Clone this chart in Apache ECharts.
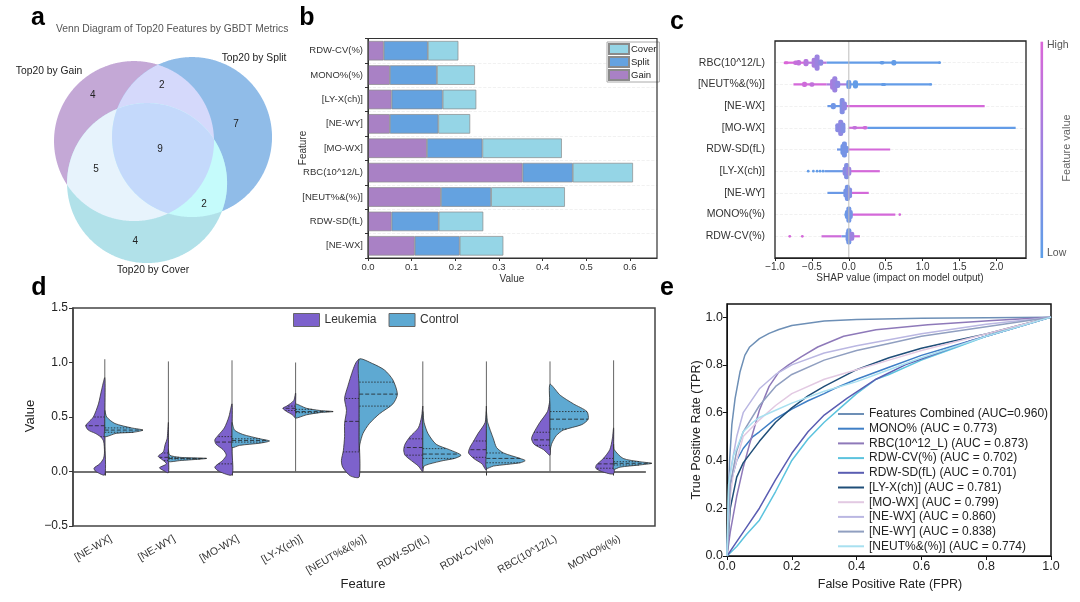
<!DOCTYPE html>
<html lang="en">
<head>
    <meta charset="UTF-8">
    <title>GBDT feature figure</title>
    <script src="https://cdn.jsdelivr.net/npm/echarts@6/dist/echarts.min.js"></script>
    <style>
        html, body { margin: 0; padding: 0; background: #fff; }
        #main { width: 1080px; height: 602px; }
    </style>
</head>
<body>
<div id="main"></div>
<script>
    // ---- a: venn ----
    var vennNames = ['Top20 by Gain', 'Top20 by Split', 'Top20 by Cover'];
    var vennCenters = [[-0.296, -0.158], [0.429, -0.208], [-0.133, 0.367]];
    var vennRadius = 1;
    var vennRegionSets = [[0], [1], [2], [0, 1], [0, 2], [1, 2], [0, 1, 2]];
    var vennRegionCounts = [4, 7, 4, 2, 5, 2, 9];
    var vennLabelAt = [[-0.81, -0.73], [0.98, -0.37], [-0.28, 1.10], [0.05, -0.85], [-0.77, 0.19], [0.58, 0.63], [0.03, -0.05]];
    var vennColors = ['#c4a8d6', '#90bce8', '#b1e1e9', '#d5d9fb', '#e7f3fc', '#c5fbfb', '#c4d9fb'];

    // ---- b: stacked importance ----
    var bFeatures = ['RDW-CV(%)', 'MONO%(%)', '[LY-X(ch)]', '[NE-WY]', '[MO-WX]', 'RBC(10^12/L)', '[NEUT%&(%)]', 'RDW-SD(fL)', '[NE-WX]'];
    var bGain = [0.036, 0.050, 0.054, 0.050, 0.135, 0.354, 0.167, 0.054, 0.107];
    var bSplit = [0.101, 0.108, 0.117, 0.111, 0.127, 0.115, 0.115, 0.108, 0.103];
    var bCover = [0.070, 0.087, 0.077, 0.073, 0.182, 0.138, 0.169, 0.102, 0.100];

    // ---- c: shap summary ----
    var shapFeatures = ['RBC(10^12/L)', '[NEUT%&(%)]', '[NE-WX]', '[MO-WX]', 'RDW-SD(fL)', '[LY-X(ch)]', '[NE-WY]', 'MONO%(%)', 'RDW-CV(%)'];
    // [x0, x1, feature value 0..1]
    var shapLines = [
        [[-0.86, -0.6, 1], [-0.6, -0.3, 0.7], [-0.3, 1.23, 0.05]],
        [[-0.75, -0.3, 0.95], [-0.3, 0, 0.6], [0, 1.10, 0.05]],
        [[-0.29, -0.05, 0.1], [-0.05, 1.84, 0.95]],
        [[-0.17, -0.05, 0.4], [0, 0.25, 0.9], [0.25, 2.26, 0.05]],
        [[-0.16, -0.02, 0.15], [0, 0.56, 0.95]],
        [[-0.33, -0.05, 0.1], [0, 0.42, 0.95]],
        [[-0.29, -0.02, 0.1], [0, 0.27, 0.95]],
        [[-0.06, 0, 0.1], [0, 0.63, 0.95]],
        [[-0.37, -0.1, 0.9], [-0.1, 0.02, 0.2], [0.02, 0.15, 0.9]]
    ];
    // [x, feature value]
    var shapDots = [
        [[1.23, 0.05]], [[1.11, 0.05]], [], [], [],
        [[-0.55, 0.05], [-0.48, 0.05], [-0.43, 0.05], [-0.39, 0.05], [-0.35, 0.05]],
        [], [[0.69, 0.95]], [[-0.80, 0.95], [-0.63, 0.95]]
    ];
    // [x, spread 0..1, feature value]
    var shapBlobs = [
        [[-0.85, 0.15, 1], [-0.72, 0.25, 0.85], [-0.68, 0.3, 0.8], [-0.58, 0.4, 0.7], [-0.47, 0.55, 0.6], [-0.43, 0.9, 0.5], [-0.38, 0.35, 0.4], [0.45, 0.2, 0.05], [0.61, 0.3, 0.05]],
        [[-0.6, 0.3, 0.9], [-0.5, 0.25, 0.8], [-0.22, 0.6, 0.6], [-0.19, 0.9, 0.5], [-0.15, 0.4, 0.4], [0.0, 0.5, 0.1], [0.09, 0.45, 0.05], [0.47, 0.15, 0.05]],
        [[-0.21, 0.35, 0.15], [-0.09, 0.9, 0.3], [-0.06, 0.5, 0.4]],
        [[-0.15, 0.5, 0.35], [-0.11, 0.9, 0.4], [-0.08, 0.6, 0.3], [0.08, 0.2, 0.8], [0.22, 0.2, 0.9]],
        [[-0.08, 0.6, 0.15], [-0.06, 0.9, 0.2], [-0.03, 0.4, 0.2]],
        [[-0.05, 0.5, 0.4], [-0.03, 0.9, 0.3], [0.0, 0.5, 0.5]],
        [[-0.04, 0.5, 0.2], [-0.02, 0.9, 0.2], [0.01, 0.6, 0.3]],
        [[-0.02, 0.5, 0.1], [0.0, 0.9, 0.15], [0.02, 0.5, 0.2]],
        [[-0.01, 0.6, 0.2], [0.0, 0.9, 0.15], [0.04, 0.5, 0.5]]
    ];

    // ---- d: split violins ----
    var dFeatures = ['[NE-WX]', '[NE-WY]', '[MO-WX]', '[LY-X(ch)]', '[NEUT%&(%)]', 'RDW-SD(fL)', 'RDW-CV(%)', 'RBC(10^12/L)', 'MONO%(%)'];
    // [value, half width in band units], top to bottom
    var leukProfiles = [
        [[0.86, 0], [0.75, 0.05], [0.62, 0.10], [0.50, 0.18], [0.45, 0.26], [0.42, 0.30], [0.38, 0.26], [0.35, 0.15], [0.32, 0.07], [0.28, 0.02], [0.18, 0.005], [0.12, 0.02], [0.07, 0.08], [0.03, 0.17], [0.0, 0.14], [-0.03, 0]],
        [[0.45, 0], [0.30, 0.02], [0.25, 0.05], [0.18, 0.08], [0.14, 0.16], [0.11, 0.10], [0.07, 0.03], [0.035, 0.14], [0.01, 0.08], [-0.01, 0]],
        [[0.62, 0], [0.50, 0.05], [0.40, 0.12], [0.33, 0.22], [0.29, 0.27], [0.25, 0.25], [0.20, 0.14], [0.15, 0.09], [0.10, 0.15], [0.04, 0.27], [0.0, 0.2], [-0.03, 0]],
        [[0.72, 0], [0.65, 0.03], [0.60, 0.14], [0.58, 0.20], [0.55, 0.14], [0.52, 0.05], [0.49, 0]],
        [[1.03, 0], [1.0, 0.05], [0.93, 0.10], [0.78, 0.18], [0.67, 0.23], [0.56, 0.20], [0.44, 0.23], [0.32, 0.23], [0.19, 0.25], [0.10, 0.28], [0.04, 0.26], [-0.04, 0.14], [-0.05, 0]],
        [[0.6, 0], [0.5, 0.02], [0.4, 0.07], [0.32, 0.20], [0.25, 0.28], [0.2, 0.30], [0.15, 0.28], [0.1, 0.18], [0.05, 0.07], [0.0, 0]],
        [[0.6, 0], [0.45, 0.02], [0.35, 0.13], [0.28, 0.20], [0.22, 0.26], [0.17, 0.28], [0.12, 0.20], [0.07, 0.07], [0.01, 0]],
        [[0.65, 0], [0.55, 0.04], [0.45, 0.16], [0.35, 0.26], [0.30, 0.29], [0.25, 0.25], [0.20, 0.10], [0.15, 0]],
        [[0.4, 0], [0.3, 0.02], [0.2, 0.06], [0.12, 0.16], [0.06, 0.27], [0.03, 0.28], [0.0, 0.19], [-0.02, 0]]
    ];
    var ctrlProfiles = [
        [[0.56, 0], [0.50, 0.03], [0.44, 0.16], [0.40, 0.42], [0.38, 0.60], [0.36, 0.45], [0.35, 0.18], [0.32, 0]],
        [[0.2, 0], [0.15, 0.02], [0.13, 0.18], [0.12, 0.60], [0.10, 0.18], [0.09, 0]],
        [[0.45, 0], [0.38, 0.04], [0.34, 0.17], [0.30, 0.44], [0.28, 0.59], [0.26, 0.44], [0.24, 0.12], [0.22, 0]],
        [[0.62, 0], [0.58, 0.17], [0.56, 0.38], [0.55, 0.59], [0.54, 0.38], [0.52, 0.17], [0.49, 0]],
        [[1.03, 0], [0.99, 0.21], [0.93, 0.40], [0.84, 0.53], [0.71, 0.60], [0.62, 0.53], [0.53, 0.32], [0.44, 0.16], [0.35, 0.06], [0.25, 0.01], [0.19, 0]],
        [[0.55, 0], [0.45, 0.02], [0.35, 0.08], [0.25, 0.21], [0.2, 0.42], [0.15, 0.60], [0.12, 0.50], [0.1, 0.32], [0.07, 0.11], [0.05, 0.02], [0.03, 0]],
        [[0.55, 0], [0.45, 0.02], [0.3, 0.11], [0.22, 0.16], [0.17, 0.27], [0.12, 0.53], [0.10, 0.61], [0.08, 0.53], [0.05, 0.11], [0.03, 0]],
        [[0.80, 0], [0.70, 0.16], [0.62, 0.37], [0.55, 0.58], [0.48, 0.60], [0.43, 0.50], [0.38, 0.21], [0.33, 0.10], [0.26, 0.03], [0.20, 0]],
        [[0.25, 0], [0.2, 0.01], [0.12, 0.15], [0.09, 0.41], [0.075, 0.60], [0.06, 0.41], [0.04, 0.10], [0.02, 0]]
    ];
    // [q1, median, q3]
    var leukQuart = [[0.32, 0.42, 0.50], [0.10, 0.13, 0.17], [0.07, 0.27, 0.32], [0.56, 0.58, 0.60], [0.18, 0.46, 0.67], [0.15, 0.22, 0.30], [0.13, 0.20, 0.28], [0.24, 0.29, 0.36], [0.03, 0.07, 0.12]];
    var ctrlQuart = [[0.36, 0.38, 0.40], [0.115, 0.12, 0.13], [0.27, 0.285, 0.30], [0.54, 0.55, 0.57], [0.60, 0.71, 0.82], [0.12, 0.16, 0.21], [0.08, 0.12, 0.17], [0.39, 0.48, 0.55], [0.06, 0.075, 0.09]];
    var violinSpan = [[-0.03, 1.03], [-0.01, 1.01], [-0.03, 1.02], [0.0, 1.0], [-0.05, 1.03], [0.0, 1.01], [0.01, 1.01], [0.0, 1.01], [-0.02, 1.02]];

    // ---- e: ROC ----
    var rocNames = ['Features Combined (AUC=0.960)', 'MONO% (AUC = 0.773)', 'RBC(10^12_L) (AUC = 0.873)', 'RDW-CV(%) (AUC = 0.702)',
        'RDW-SD(fL) (AUC = 0.701)', '[LY-X(ch)] (AUC = 0.781)', '[MO-WX] (AUC = 0.799)', '[NE-WX] (AUC = 0.860)',
        '[NE-WY] (AUC = 0.838)', '[NEUT%&(%)] (AUC = 0.774)'];
    var rocCombined = [[0, 0], [0.003, 0.2], [0.008, 0.4], [0.015, 0.55], [0.025, 0.66], [0.04, 0.77], [0.055, 0.84], [0.07, 0.875], [0.1, 0.91], [0.13, 0.932], [0.16, 0.948], [0.2, 0.965], [0.3, 0.984], [0.4, 0.99], [0.6, 0.995], [1, 1]];
    var rocMono = [[0, 0], [0.005, 0.2], [0.01, 0.3], [0.03, 0.4], [0.05, 0.45], [0.08, 0.5], [0.1, 0.52], [0.15, 0.575], [0.2, 0.615], [0.25, 0.65], [0.3, 0.68], [0.33, 0.7], [0.4, 0.74], [0.5, 0.79], [0.6, 0.84], [0.7, 0.88], [0.8, 0.92], [0.9, 0.96], [1, 1]];
    var rocRbc = [[0, 0], [0.01, 0.1], [0.03, 0.25], [0.05, 0.37], [0.07, 0.47], [0.1, 0.61], [0.13, 0.71], [0.16, 0.77], [0.19, 0.8], [0.23, 0.835], [0.28, 0.875], [0.36, 0.92], [0.46, 0.947], [0.62, 0.968], [0.82, 0.986], [1, 1]];
    var rocRdwCv = [[0, 0], [0.03, 0.04], [0.06, 0.09], [0.1, 0.15], [0.15, 0.27], [0.2, 0.4], [0.25, 0.49], [0.3, 0.56], [0.35, 0.62], [0.4, 0.68], [0.45, 0.73], [0.46, 0.74], [0.5, 0.76], [0.6, 0.82], [0.7, 0.87], [0.8, 0.92], [0.9, 0.96], [1, 1]];
    var rocRdwSd = [[0, 0], [0.03, 0.06], [0.06, 0.12], [0.1, 0.2], [0.15, 0.32], [0.2, 0.43], [0.25, 0.52], [0.3, 0.59], [0.37, 0.66], [0.46, 0.74], [0.55, 0.8], [0.65, 0.85], [0.75, 0.9], [0.85, 0.94], [1, 1]];
    var rocLyx = [[0, 0], [0.01, 0.2], [0.03, 0.33], [0.05, 0.39], [0.1, 0.48], [0.15, 0.56], [0.2, 0.62], [0.25, 0.67], [0.3, 0.71], [0.4, 0.78], [0.5, 0.83], [0.6, 0.87], [0.7, 0.9], [0.8, 0.93], [0.9, 0.965], [1, 1]];
    var rocMowx = [[0, 0], [0.01, 0.25], [0.02, 0.35], [0.05, 0.5], [0.1, 0.57], [0.15, 0.63], [0.2, 0.68], [0.3, 0.74], [0.4, 0.78], [0.5, 0.82], [0.6, 0.86], [0.7, 0.895], [0.8, 0.93], [0.9, 0.965], [1, 1]];
    var rocNewx = [[0, 0], [0.01, 0.35], [0.03, 0.5], [0.05, 0.6], [0.1, 0.7], [0.15, 0.76], [0.2, 0.8], [0.3, 0.85], [0.4, 0.88], [0.5, 0.905], [0.6, 0.93], [0.8, 0.97], [1, 1]];
    var rocNewy = [[0, 0], [0.01, 0.3], [0.03, 0.44], [0.05, 0.52], [0.1, 0.63], [0.15, 0.71], [0.2, 0.76], [0.3, 0.82], [0.4, 0.86], [0.5, 0.89], [0.6, 0.92], [0.8, 0.96], [1, 1]];
    var rocNeut = [[0, 0], [0.005, 0.3], [0.02, 0.42], [0.03, 0.45], [0.05, 0.52], [0.08, 0.56], [0.1, 0.58], [0.15, 0.61], [0.2, 0.64], [0.3, 0.69], [0.4, 0.73], [0.46, 0.76], [0.5, 0.78], [0.6, 0.83], [0.7, 0.875], [0.8, 0.92], [0.9, 0.96], [1, 1]];
    var rocCurves = [rocCombined, rocMono, rocRbc, rocRdwCv, rocRdwSd, rocLyx, rocMowx, rocNewx, rocNewy, rocNeut];
    var rocColors = ['#6d8fb6', '#3f7fc6', '#8e79b9', '#5cc3de', '#5a5db2', '#1f4e78', '#e2c9e2', '#bab7e2', '#909fc0', '#a8e0f0'];

    var FONT = '"Liberation Sans", Arial, sans-serif';
    var LEUK = '#7d62cc', CTRL = '#5ea9d2';

    function fvColor(f) {
        var lo = [93, 159, 232], hi = [218, 102, 216];
        var c = lo.map(function (v, k) { return Math.round(v + (hi[k] - v) * f); });
        return 'rgb(' + c.join(',') + ')';
    }

    // convex region = intersection of listed circles, sampled on the boundaries
    function regionPoints(sets) {
        var pts = [];
        sets.forEach(function (k) {
            var c = vennCenters[k];
            for (var a = 0; a < 720; a++) {
                var t = a * Math.PI / 360;
                var p = [c[0] + vennRadius * Math.cos(t), c[1] + vennRadius * Math.sin(t)];
                var ok = sets.every(function (j) {
                    if (j === k) return true;
                    return Math.hypot(p[0] - vennCenters[j][0], p[1] - vennCenters[j][1]) <= vennRadius + 1e-9;
                });
                if (ok) pts.push(p);
            }
        });
        var mx = 0, my = 0;
        pts.forEach(function (p) { mx += p[0]; my += p[1]; });
        mx /= pts.length; my /= pts.length;
        pts.sort(function (p, q) { return Math.atan2(p[1] - my, p[0] - mx) - Math.atan2(q[1] - my, q[0] - mx); });
        return pts;
    }

    // flatten shap marks: [kind, row, a, b, fv]
    var shapItems = [];
    shapLines.forEach(function (r, i) { r.forEach(function (s) { shapItems.push([0, i, s[0], s[1], s[2]]); }); });
    shapDots.forEach(function (r, i) { r.forEach(function (s) { shapItems.push([1, i, s[0], 0, s[1]]); }); });
    shapBlobs.forEach(function (r, i) { r.forEach(function (s) { shapItems.push([2, i, s[0], s[1], s[2]]); }); });

    function widthAt(prof, y) {
        for (var k = 0; k < prof.length - 1; k++) {
            var a = prof[k], b = prof[k + 1];
            if (y <= a[0] && y >= b[0]) return a[1] + (b[1] - a[1]) * (a[0] - y) / (a[0] - b[0]);
        }
        return 0;
    }

    function violinRender(profiles, quarts, side, color) {
        return function (params, api) {
            var i = params.dataIndex;
            var cx = api.coord([i, 0])[0];
            var bw = api.size([1, 0])[0];
            var prof = profiles[i];
            var pts = prof.map(function (p) { return [cx + side * p[1] * bw, api.coord([i, p[0]])[1]]; });
            var yTop = pts[0][1], yBot = pts[pts.length - 1][1];
            var poly = pts.concat([[cx, yBot + (yTop - yBot) * 0.33], [cx, yBot + (yTop - yBot) * 0.66]]);
            var children = [];
            if (side < 0) {
                var sp = violinSpan[i];
                children.push({
                    type: 'line',
                    shape: {x1: cx, y1: api.coord([i, sp[0]])[1], x2: cx, y2: api.coord([i, sp[1]])[1]},
                    style: {stroke: '#555', lineWidth: 0.9}
                });
            }
            children.push({
                type: 'polygon',
                shape: {points: poly, smooth: 0.25},
                style: {fill: color, stroke: '#333', lineWidth: 0.8}
            });
            quarts[i].forEach(function (q, k) {
                var y = api.coord([i, q])[1];
                var w = widthAt(prof, q) * bw;
                children.push({
                    type: 'line',
                    shape: {x1: cx, y1: y, x2: cx + side * w, y2: y},
                    style: {stroke: '#222', lineWidth: 0.8, lineDash: k === 1 ? [4, 2] : [1.5, 1.5]}
                });
            });
            return {type: 'group', children: children};
        };
    }

    var chart = echarts.init(document.getElementById('main'), null, {renderer: 'canvas'});

    var tickFmt1 = function (v) {
        return Math.abs(v * 10 - Math.round(v * 10)) < 1e-6 ? v.toFixed(1) : '';
    };
    var tickFmtHalf = function (v) {
        if (Math.abs(v * 2 - Math.round(v * 2)) > 1e-6) return '';
        return v.toFixed(1).replace('-', '\u2212');
    };

    var series = [];

    // a
    series.push({
        type: 'custom', name: 'venn', xAxisIndex: 0, yAxisIndex: 0, silent: true,
        data: vennRegionSets.map(function (s, i) { return [i]; }),
        renderItem: function (params, api) {
            var i = params.dataIndex;
            var pts = regionPoints(vennRegionSets[i]).map(function (p) { return api.coord(p); });
            return {type: 'polygon', shape: {points: pts}, style: {fill: vennColors[i], stroke: null}};
        }
    });
    series.push({
        type: 'custom', name: 'vennCounts', xAxisIndex: 0, yAxisIndex: 0, silent: true,
        data: vennRegionCounts.map(function (c, i) { return [i]; }),
        renderItem: function (params, api) {
            var i = params.dataIndex;
            var p = api.coord(vennLabelAt[i]);
            return {type: 'text', x: p[0], y: p[1], style: {text: String(vennRegionCounts[i]), font: '10px ' + FONT, fill: '#222', align: 'center', verticalAlign: 'middle'}};
        }
    });

    // b
    [['Gain', bGain, '#a981c5'], ['Split', bSplit, '#64a2e0'], ['Cover', bCover, '#95d5e6']].forEach(function (s) {
        series.push({
            type: 'bar', name: s[0], stack: 'imp', xAxisIndex: 1, yAxisIndex: 1, data: s[1], barWidth: '80%',
            itemStyle: {color: s[2], borderColor: '#8a8a8a', borderWidth: 0.7}
        });
    });

    // c
    series.push({
        type: 'line', name: 'zero', xAxisIndex: 2, yAxisIndex: 2, data: [[0, 0], [0, 10]], symbol: 'none', silent: true,
        lineStyle: {color: '#bdbdbd', width: 1}
    });
    series.push({
        type: 'custom', name: 'shap', xAxisIndex: 2, yAxisIndex: 2, silent: true,
        data: shapItems.map(function (d) { return [d[2], d[1] + 1]; }),
        renderItem: function (params, api) {
            var d = shapItems[params.dataIndex];
            var row = d[1] + 1;
            var col = fvColor(d[4]);
            var p = api.coord([d[2], row]);
            if (d[0] === 0) {
                var q = api.coord([d[3], row]);
                return {type: 'rect', shape: {x: p[0], y: p[1] - 1.1, width: q[0] - p[0], height: 2.2}, style: {fill: col}};
            }
            if (d[0] === 1) {
                return {type: 'circle', shape: {cx: p[0], cy: p[1], r: 1.4}, style: {fill: col}};
            }
            var h = Math.max(3, d[3] * 18);
            return {type: 'rect', shape: {x: p[0] - 2.5, y: p[1] - h / 2, width: 5, height: h, r: 2}, style: {fill: col}};
        }
    });

    // d
    series.push({
        type: 'custom', name: 'Leukemia', xAxisIndex: 4, yAxisIndex: 4, silent: true,
        itemStyle: {color: LEUK},
        data: dFeatures.map(function (f, i) { return [i, 0.5]; }),
        renderItem: violinRender(leukProfiles, leukQuart, -1, LEUK)
    });
    series.push({
        type: 'custom', name: 'Control', xAxisIndex: 4, yAxisIndex: 4, silent: true,
        itemStyle: {color: CTRL},
        data: dFeatures.map(function (f, i) { return [i, 0.5]; }),
        renderItem: violinRender(ctrlProfiles, ctrlQuart, 1, CTRL)
    });

    // e
    rocCurves.forEach(function (c, i) {
        series.push({
            type: 'line', name: rocNames[i], xAxisIndex: 5, yAxisIndex: 5, data: c, showSymbol: false, symbol: 'none',
            lineStyle: {color: rocColors[i], width: 1.5}, itemStyle: {color: rocColors[i]}
        });
    });

    function frame(x, y, w, h, color, lw) {
        return {type: 'rect', z: 100, silent: true, shape: {x: x, y: y, width: w, height: h}, style: {fill: null, stroke: color, lineWidth: lw}};
    }

    var hidden = {show: false};
    var option = {
        animation: false,
        textStyle: {fontFamily: FONT},
        grid: [
            {left: 37.7, top: 33.7, width: 240, height: 240},
            {left: 368, top: 38.5, width: 289, height: 219.5},
            {left: 775, top: 41, width: 251, height: 217},
            {left: 73, top: 308, width: 582, height: 218, show: true, borderColor: '#444', borderWidth: 1.5},
            {left: 73, top: 308, width: 572.4, height: 218},
            {left: 727, top: 304, width: 324, height: 252, show: true, borderColor: '#111', borderWidth: 1.5},
            {left: 79, top: 308, width: 572.4, height: 218}
        ],
        xAxis: [
            {type: 'value', gridIndex: 0, min: -1.5, max: 1.5, show: false},
            {
                type: 'value', gridIndex: 1, min: 0, max: 0.662, interval: 0.1,
                axisLine: {show: true, lineStyle: {color: '#333'}},
                axisTick: {show: true, length: 3, lineStyle: {color: '#333'}},
                axisLabel: {fontSize: 9.5, color: '#333', margin: 4, formatter: tickFmt1, showMaxLabel: false},
                splitLine: hidden
            },
            {
                type: 'value', gridIndex: 2, min: -1, max: 2.4, interval: 0.5,
                axisLine: {show: true, lineStyle: {color: '#222'}},
                axisTick: {show: true, length: 3, lineStyle: {color: '#222'}},
                axisLabel: {fontSize: 10, color: '#333', margin: 4, formatter: tickFmtHalf, showMaxLabel: false},
                splitLine: hidden
            },
            {type: 'value', gridIndex: 3, min: 0, max: 1, show: false},
            {
                type: 'category', gridIndex: 4, data: dFeatures, boundaryGap: true,
                axisLine: {show: true, lineStyle: {color: '#444', width: 1.5}},
                axisTick: {show: true, alignWithLabel: true, length: 4, lineStyle: {color: '#333'}},
                axisLabel: {show: false}
            },
            {
                type: 'value', gridIndex: 5, min: 0, max: 1, interval: 0.2,
                axisLine: {show: true, lineStyle: {color: '#111'}},
                axisTick: {show: true, length: 4, lineStyle: {color: '#111'}},
                axisLabel: {fontSize: 12.5, color: '#222', margin: 4, formatter: tickFmt1},
                splitLine: hidden
            },
            {
                type: 'category', gridIndex: 6, data: dFeatures, boundaryGap: true,
                axisLine: hidden, axisTick: hidden,
                axisLabel: {fontSize: 10.5, color: '#333', rotate: 30, margin: 12, interval: 0}
            }
        ],
        yAxis: [
            {type: 'value', gridIndex: 0, min: -1.5, max: 1.5, inverse: true, show: false},
            {
                type: 'category', gridIndex: 1, data: bFeatures, inverse: true,
                axisLine: {show: true, lineStyle: {color: '#333'}},
                axisTick: {show: true, length: 3, lineStyle: {color: '#333'}},
                axisLabel: {fontSize: 9.5, color: '#333', margin: 5},
                splitLine: {show: true, lineStyle: {color: '#eeeeee', type: 'dashed', width: 0.8}}
            },
            {
                type: 'category', gridIndex: 2, data: [''].concat(shapFeatures, ['']), inverse: true, boundaryGap: false,
                axisLine: hidden, axisTick: hidden,
                axisLabel: {fontSize: 10.5, color: '#333', margin: 10, interval: 0},
                splitLine: {show: true, lineStyle: {color: '#ededed', type: 'dashed', width: 0.8}}
            },
            {type: 'value', gridIndex: 3, min: 0, max: 1, show: false},
            {
                type: 'value', gridIndex: 4, min: -0.5, max: 1.5, interval: 0.5,
                axisLine: {show: true, lineStyle: {color: '#444', width: 1.5}},
                axisTick: {show: true, length: 4, lineStyle: {color: '#333'}},
                axisLabel: {fontSize: 12, color: '#222', margin: 5, formatter: tickFmtHalf},
                splitLine: hidden
            },
            {
                type: 'value', gridIndex: 5, min: 0, max: 1.055, interval: 0.2,
                axisLine: {show: true, lineStyle: {color: '#111'}},
                axisTick: {show: true, length: 4, lineStyle: {color: '#111'}},
                axisLabel: {fontSize: 12.5, color: '#222', margin: 4, formatter: tickFmt1, showMaxLabel: false},
                splitLine: hidden
            },
            {type: 'value', gridIndex: 6, min: 0, max: 1, show: false}
        ],
        legend: [
            {
                data: ['Cover', 'Split', 'Gain'], orient: 'vertical', left: 607, top: 42,
                itemWidth: 20, itemHeight: 10, itemGap: 1, icon: 'rect', padding: [1, 3, 1, 1],
                borderColor: '#aaa', borderWidth: 1, backgroundColor: '#fff', selectedMode: false,
                textStyle: {fontSize: 9.5, color: '#222', lineHeight: 10.5, padding: [0, 0, 0, -3]}
            },
            {
                data: ['Leukemia', 'Control'], orient: 'horizontal', left: 293, top: 313, padding: 0,
                itemWidth: 26, itemHeight: 13, itemGap: 12, icon: 'rect', selectedMode: false,
                itemStyle: {borderColor: '#666', borderWidth: 1},
                textStyle: {fontSize: 12, color: '#333'}
            },
            {
                data: rocNames, orient: 'vertical', left: 838, top: 407, padding: 0,
                itemWidth: 26, itemHeight: 2, itemGap: 0.7, icon: 'rect', selectedMode: false,
                textStyle: {fontSize: 12, color: '#222', lineHeight: 14}
            }
        ],
        graphic: [
            frame(368, 38.5, 289, 219.5, '#333', 1.2),
            frame(775, 41, 251, 217, '#222', 1.3),
            {type: 'text', x: 38, y: 18, style: {text: 'a', font: 'bold 25px ' + FONT, fill: '#000', align: 'center', verticalAlign: 'middle'}},
            {type: 'text', x: 56, y: 29, style: {text: 'Venn Diagram of Top20 Features by GBDT Metrics', font: '10.3px ' + FONT, fill: '#555', align: 'left', verticalAlign: 'middle'}},
            {type: 'text', x: 49, y: 71, style: {text: vennNames[0], font: '10.3px ' + FONT, fill: '#222', align: 'center', verticalAlign: 'middle'}},
            {type: 'text', x: 254, y: 58, style: {text: vennNames[1], font: '10.3px ' + FONT, fill: '#222', align: 'center', verticalAlign: 'middle'}},
            {type: 'text', x: 153, y: 270, style: {text: vennNames[2], font: '10.3px ' + FONT, fill: '#222', align: 'center', verticalAlign: 'middle'}},
            {type: 'text', x: 307, y: 18, style: {text: 'b', font: 'bold 25px ' + FONT, fill: '#000', align: 'center', verticalAlign: 'middle'}},
            {type: 'text', x: 303, y: 148, rotation: Math.PI / 2, style: {text: 'Feature', font: '10px ' + FONT, fill: '#333', align: 'center', verticalAlign: 'middle'}},
            {type: 'text', x: 512, y: 279, style: {text: 'Value', font: '10px ' + FONT, fill: '#333', align: 'center', verticalAlign: 'middle'}},
            {type: 'text', x: 677, y: 22, style: {text: 'c', font: 'bold 25px ' + FONT, fill: '#000', align: 'center', verticalAlign: 'middle'}},
            {type: 'text', x: 900, y: 278, style: {text: 'SHAP value (impact on model output)', font: '10px ' + FONT, fill: '#333', align: 'center', verticalAlign: 'middle'}},
            {
                type: 'rect', shape: {x: 1040.5, y: 41.7, width: 2.6, height: 216.3},
                style: {fill: new echarts.graphic.LinearGradient(0, 0, 0, 1, [{offset: 0, color: fvColor(1)}, {offset: 1, color: fvColor(0)}])}
            },
            {type: 'text', x: 1047, y: 45, style: {text: 'High', font: '10.5px ' + FONT, fill: '#555', align: 'left', verticalAlign: 'middle'}},
            {type: 'text', x: 1047, y: 253, style: {text: 'Low', font: '10.5px ' + FONT, fill: '#555', align: 'left', verticalAlign: 'middle'}},
            {type: 'text', x: 1067, y: 148, rotation: Math.PI / 2, style: {text: 'Feature value', font: '11px ' + FONT, fill: '#666', align: 'center', verticalAlign: 'middle'}},
            {type: 'text', x: 39, y: 288, style: {text: 'd', font: 'bold 25px ' + FONT, fill: '#000', align: 'center', verticalAlign: 'middle'}},
            {type: 'text', x: 30, y: 416, rotation: Math.PI / 2, style: {text: 'Value', font: '13px ' + FONT, fill: '#222', align: 'center', verticalAlign: 'middle'}},
            {type: 'text', x: 363, y: 584, style: {text: 'Feature', font: '13px ' + FONT, fill: '#222', align: 'center', verticalAlign: 'middle'}},
            {type: 'text', x: 667, y: 288, style: {text: 'e', font: 'bold 25px ' + FONT, fill: '#000', align: 'center', verticalAlign: 'middle'}},
            {type: 'text', x: 697, y: 430, rotation: Math.PI / 2, style: {text: 'True Positive Rate (TPR)', font: '12.5px ' + FONT, fill: '#222', align: 'center', verticalAlign: 'middle'}},
            {type: 'text', x: 890, y: 585, style: {text: 'False Positive Rate (FPR)', font: '12.5px ' + FONT, fill: '#222', align: 'center', verticalAlign: 'middle'}}
        ],
        series: series
    };
    chart.setOption(option);
</script>
</body>
</html>
